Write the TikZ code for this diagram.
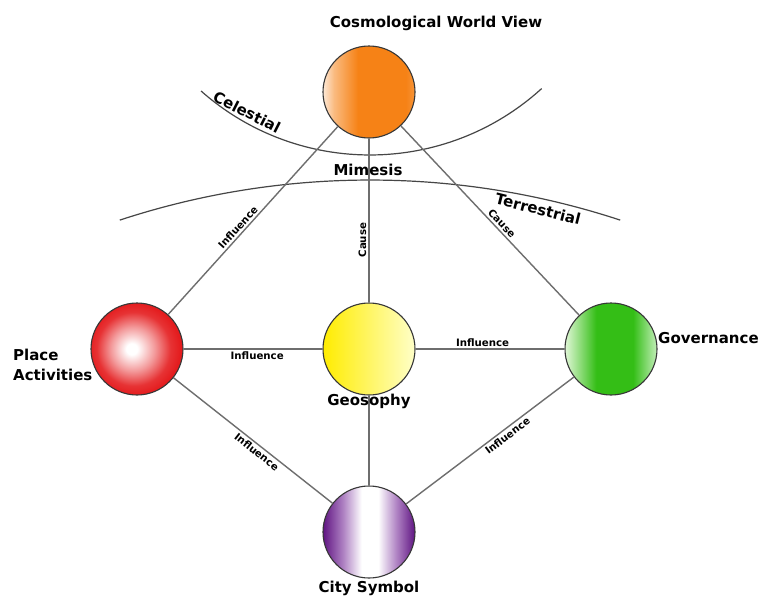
\documentclass[tikz,border=0pt]{standalone}
\usepackage{fontspec}
\setmainfont{DejaVu Sans}
\definecolor{ol}{RGB}{253,232,214}
\definecolor{om}{RGB}{246,130,22}
\definecolor{rd}{RGB}{228,28,30}
\definecolor{yl}{RGB}{255,236,0}
\definecolor{yr}{RGB}{255,255,200}
\definecolor{gl}{RGB}{225,247,215}
\definecolor{gm}{RGB}{52,190,22}
\definecolor{gr}{RGB}{195,238,185}
\definecolor{pd}{RGB}{95,20,130}
\definecolor{pm}{RGB}{175,130,195}
\definecolor{linec}{RGB}{110,110,110}
\definecolor{arcc}{RGB}{70,70,70}
\definecolor{rimc}{RGB}{55,55,55}
\pgfdeclarehorizontalshading{orangesh}{100bp}{color(0bp)=(ol); color(25bp)=(ol); color(31bp)=(om!55!white); color(44bp)=(om); color(70bp)=(om); color(75bp)=(om!85!white); color(100bp)=(om!85!white)}
\pgfdeclareradialshading{redsh}{\pgfpoint{-3bp}{0bp}}{color(0bp)=(white); color(3bp)=(white); color(12bp)=(rd!45!white); color(20bp)=(rd!90!white); color(25bp)=(rd); color(50bp)=(rd)}
\pgfdeclarehorizontalshading{yellowsh}{100bp}{color(0bp)=(yl); color(25bp)=(yl); color(75bp)=(yr); color(100bp)=(yr)}
\pgfdeclarehorizontalshading{greensh}{100bp}{color(0bp)=(gl); color(25bp)=(gl); color(42bp)=(gm); color(62bp)=(gm); color(75bp)=(gr); color(100bp)=(gr)}
\pgfdeclarehorizontalshading{purplesh}{100bp}{color(0bp)=(pd); color(25bp)=(pd); color(36bp)=(pm); color(46bp)=(white); color(55bp)=(white); color(65bp)=(pm); color(75bp)=(pd); color(100bp)=(pd)}
\tikzset{
  ball/.style={circle, minimum size=92pt, inner sep=0pt, draw=rimc, line width=1.1pt},
  bigtext/.style={font=\fontsize{15}{17}\selectfont\bfseries, inner sep=0pt},
  lab/.style={font=\fontsize{10.2}{11}\selectfont\bfseries, inner sep=2pt, sloped},
  conn/.style={draw=linec, line width=1.4pt},
  arcline/.style={draw=arcc, line width=1.2pt}
}
\begin{document}
\begin{tikzpicture}[x=1pt,y=1pt]
\useasboundingbox[fill=white] (0,0) rectangle (761,-597);
% arcs
\draw[arcline] (370,100) ++(228.5:255) arc[start angle=228.5, end angle=312.3, radius=255];
\draw[arcline] (370,-981) ++(108.2:801) arc[start angle=108.2, end angle=71.8, radius=801];
% circles
\node[ball, shading=orangesh] (cosmo) at (369,-92) {};
\node[ball, shading=redsh] (place) at (137,-349) {};
\node[ball, shading=yellowsh] (geo) at (369,-349) {};
\node[ball, shading=greensh] (gov) at (611,-349) {};
\node[ball, shading=purplesh] (city) at (369,-532) {};
% connectors
\draw[conn] (cosmo) -- (place) node[lab, pos=0.56, above] {Influence};
\draw[conn] (cosmo) -- (geo) node[lab, sloped=false, rotate=90, pos=0.62, above] {Cause};
\draw[conn] (cosmo) -- (gov) node[lab, pos=0.54, above] {Cause};
\draw[conn] (place) -- (geo) node[lab, pos=0.53, below] {Influence};
\draw[conn] (geo) -- (gov) node[lab, pos=0.45, above] {Influence};
\draw[conn] (place) -- (city) node[lab, pos=0.55, below] {Influence};
\draw[conn] (gov) -- (city) node[lab, pos=0.42, below] {Influence};
\draw[conn] (geo) -- (city);
% texts
\node[bigtext] (tcosmo) at (436,-23) {Cosmological World View};
\node[bigtext, rotate=-27] (tcel) at (247,-112) {Celestial};
\node[bigtext] (tmim) at (368,-170) {Mimesis};
\node[bigtext, rotate=-14] (tter) at (538,-209) {Terrestrial};
\node[bigtext, align=left, anchor=west, font=\fontsize{15}{20}\selectfont\bfseries] (tplace) at (13,-365) {Place\\Activities};
\node[bigtext, anchor=west] (tgov) at (658,-338) {Governance};
\node[bigtext] (tgeo) at (369,-401) {Geosophy};
\node[bigtext] (tcity) at (369,-588) {City Symbol};
\end{tikzpicture}
\end{document}
